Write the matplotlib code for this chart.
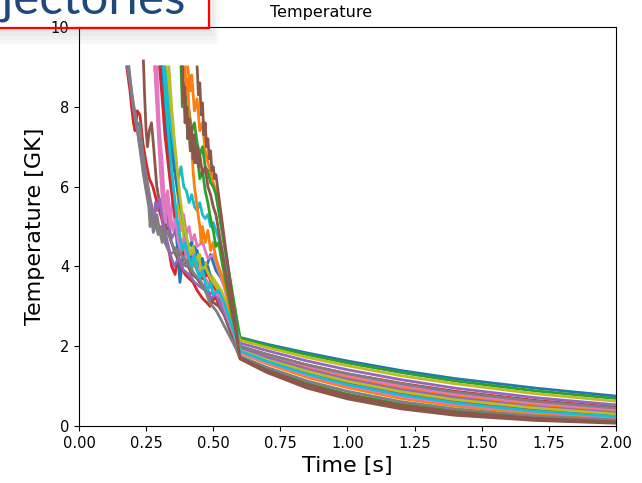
import matplotlib.pyplot as plt
from matplotlib.patches import Rectangle

# shared time grid for the smooth cooling part (after t = 0.6 s)
tail_time = [0.6, 0.7, 0.85, 1.0, 1.2, 1.4, 1.7, 2.0]

# trajectory heads (noisy part) + tail temperatures
t01 = [0.305, 0.32, 0.335, 0.35, 0.365, 0.376, 0.39, 0.41, 0.43, 0.45, 0.47, 0.49, 0.51, 0.53, 0.55]
T01 = [9.0, 7.9, 6.8, 5.7, 4.6, 3.6, 4.4, 4.1, 4.5, 4.2, 3.9, 4.3, 3.9, 3.7, 3.4] + \
      [2.22, 2.05, 1.83, 1.63, 1.39, 1.19, 0.95, 0.75]

t02 = [0.405, 0.415, 0.42, 0.43, 0.44, 0.45, 0.46, 0.47, 0.48, 0.49, 0.5, 0.51]
T02 = [9.0, 8.4, 8.8, 7.9, 8.2, 7.4, 7.6, 6.9, 6.6, 6.4, 6.1, 5.9] + \
      [1.95, 1.73, 1.45, 1.21, 0.96, 0.75, 0.53, 0.37]

t03 = [0.382, 0.39, 0.395, 0.40, 0.41, 0.42, 0.43, 0.44, 0.45, 0.46, 0.47, 0.48, 0.49, 0.50, 0.51]
T03 = [9.0, 8.2, 8.6, 7.8, 7.9, 7.4, 7.6, 7.1, 6.8, 7.0, 6.5, 6.4, 6.1, 6.0, 5.8] + \
      [2.20, 2.02, 1.79, 1.58, 1.34, 1.13, 0.88, 0.69]

t04 = [0.178, 0.19, 0.196, 0.203, 0.209, 0.217, 0.227, 0.238, 0.25, 0.262, 0.275, 0.283, 0.295, 0.308,
       0.317, 0.326, 0.335, 0.345, 0.358, 0.37, 0.38, 0.395, 0.41, 0.425, 0.44, 0.46, 0.475, 0.488, 0.506]
T04 = [9.0, 8.4, 8.0, 7.6, 7.4, 7.9, 7.8, 7.1, 6.6, 6.2, 6.0, 5.8, 5.5, 5.2,
       4.9, 4.6, 4.4, 4.0, 3.8, 4.3, 4.0, 3.8, 3.7, 3.6, 3.4, 3.2, 3.1, 3.0, 3.25] + \
      [1.98, 1.79, 1.53, 1.31, 1.07, 0.87, 0.64, 0.47]

t05 = [0.283, 0.29, 0.297, 0.303, 0.31, 0.318, 0.325, 0.335, 0.345, 0.36, 0.375, 0.39, 0.41, 0.43,
       0.45, 0.47, 0.49, 0.51, 0.52, 0.54]
T05 = [9.0, 8.3, 7.5, 6.8, 6.2, 5.6, 5.4, 5.0, 4.7, 4.9, 4.5, 4.3, 4.0, 3.8,
       3.6, 3.5, 3.3, 3.5, 3.2, 3.0] + \
      [2.08, 1.89, 1.63, 1.41, 1.16, 0.95, 0.71, 0.53]

t06 = [0.24, 0.245, 0.25, 0.255, 0.262, 0.27, 0.278, 0.285, 0.29, 0.30, 0.31, 0.325, 0.34, 0.36,
       0.38, 0.40, 0.42, 0.44, 0.46, 0.48, 0.50, 0.52, 0.54]
T06 = [9.15, 8.2, 7.4, 7.0, 7.4, 7.6, 7.0, 6.4, 6.0, 5.6, 5.3, 5.0, 4.7, 4.3,
       4.0, 4.1, 3.8, 3.7, 3.5, 3.3, 3.1, 3.0, 2.8] + \
      [1.68, 1.34, 0.95, 0.68, 0.43, 0.27, 0.14, 0.07]

t07 = [0.282, 0.29, 0.298, 0.305, 0.312, 0.32, 0.33, 0.34, 0.35, 0.36, 0.37, 0.38, 0.39, 0.40,
       0.41, 0.42, 0.43, 0.44, 0.46, 0.48, 0.50, 0.52, 0.54]
T07 = [9.0, 8.0, 7.0, 6.2, 5.5, 5.1, 5.6, 5.0, 5.8, 5.2, 5.6, 4.9, 5.3, 4.8,
       5.0, 4.6, 4.8, 4.5, 4.6, 4.2, 4.3, 3.9, 3.5] + \
      [2.0, 1.79, 1.51, 1.27, 1.01, 0.81, 0.58, 0.41]

t08 = [0.186, 0.195, 0.205, 0.215, 0.225, 0.235, 0.245, 0.255, 0.265, 0.275, 0.285, 0.295, 0.305,
       0.32, 0.34, 0.36, 0.38, 0.40, 0.42, 0.44, 0.46, 0.48, 0.50, 0.53]
T08 = [9.0, 8.4, 7.9, 7.5, 7.6, 7.0, 6.5, 6.1, 5.7, 5.4, 5.1, 4.8, 5.0,
       4.6, 4.3, 4.4, 4.1, 4.0, 4.2, 3.9, 3.7, 3.6, 3.4, 3.1] + \
      [2.0, 1.80, 1.53, 1.31, 1.06, 0.85, 0.62, 0.45]

t09 = [0.325, 0.335, 0.345, 0.355, 0.365, 0.375, 0.385, 0.395, 0.405, 0.42, 0.43, 0.44, 0.45,
       0.46, 0.47, 0.49, 0.51, 0.53]
T09 = [9.0, 8.3, 7.5, 6.8, 6.0, 5.3, 5.0, 4.5, 4.2, 3.9, 4.2, 3.9, 4.3,
       4.0, 4.1, 3.8, 3.6, 3.4] + \
      [2.15, 1.97, 1.72, 1.51, 1.26, 1.06, 0.81, 0.62]

t10 = [0.319, 0.33, 0.34, 0.35, 0.36, 0.37, 0.38, 0.39, 0.40, 0.41, 0.42, 0.43, 0.44, 0.45,
       0.46, 0.47, 0.48, 0.49, 0.50, 0.51, 0.52, 0.53, 0.55]
T10 = [9.0, 8.2, 7.5, 7.0, 6.6, 6.2, 6.5, 6.0, 5.9, 5.6, 5.8, 5.5, 5.4, 5.6,
       5.3, 5.2, 5.3, 5.0, 5.1, 4.9, 4.7, 4.5, 3.9] + \
      [1.92, 1.67, 1.36, 1.11, 0.84, 0.64, 0.42, 0.28]

t11 = [0.31, 0.32, 0.33, 0.345, 0.36, 0.375, 0.39, 0.40, 0.41, 0.42, 0.43, 0.44, 0.45, 0.46,
       0.47, 0.48, 0.49, 0.50, 0.52, 0.54]
T11 = [9.0, 8.3, 7.6, 6.9, 6.2, 5.6, 5.1, 4.7, 4.5, 4.6, 4.2, 4.4, 4.0, 4.2,
       3.8, 4.0, 3.7, 3.5, 3.3, 3.0] + \
      [1.9, 1.65, 1.33, 1.08, 0.81, 0.61, 0.40, 0.26]

t12 = [0.395, 0.40, 0.405, 0.41, 0.42, 0.425, 0.43, 0.44, 0.45, 0.455, 0.46, 0.47, 0.48, 0.49,
       0.50, 0.51, 0.52, 0.54]
T12 = [9.0, 8.3, 8.7, 7.8, 7.0, 6.4, 6.0, 5.5, 5.0, 4.6, 5.0, 4.6, 4.9, 4.4,
       4.6, 4.2, 4.0, 3.6] + \
      [1.83, 1.56, 1.22, 0.96, 0.69, 0.50, 0.31, 0.19]

t13 = [0.38, 0.385, 0.39, 0.395, 0.40, 0.405, 0.41, 0.415, 0.42, 0.43, 0.44, 0.45, 0.46, 0.47,
       0.48, 0.49, 0.50, 0.51, 0.52, 0.53, 0.55]
T13 = [9.0, 8.0, 8.4, 7.6, 7.9, 7.2, 7.5, 6.9, 7.2, 6.6, 6.8, 6.2, 6.4, 5.9,
       5.6, 5.2, 4.9, 4.5, 4.6, 4.2, 3.5] + \
      [1.72, 1.42, 1.07, 0.80, 0.55, 0.38, 0.21, 0.12]

t14 = [0.30, 0.31, 0.32, 0.33, 0.34, 0.35, 0.36, 0.37, 0.38, 0.39, 0.40, 0.41, 0.42, 0.43,
       0.44, 0.46, 0.48, 0.50, 0.52, 0.54]
T14 = [9.0, 8.2, 7.3, 6.7, 6.1, 5.6, 5.2, 4.8, 4.6, 4.3, 4.5, 4.1, 4.0, 4.3,
       3.9, 3.7, 3.8, 3.5, 3.3, 3.1] + \
      [1.88, 1.65, 1.35, 1.11, 0.85, 0.65, 0.44, 0.30]

t15 = [0.18, 0.19, 0.20, 0.21, 0.22, 0.23, 0.24, 0.25, 0.26, 0.27, 0.277, 0.285, 0.29, 0.30,
       0.31, 0.32, 0.33, 0.34, 0.355, 0.37, 0.39, 0.41, 0.43, 0.45, 0.47, 0.49, 0.51, 0.53]
T15 = [9.0, 8.6, 8.1, 7.7, 7.3, 6.9, 6.4, 6.0, 5.6, 5.2, 4.85, 5.6, 5.4, 5.7,
       5.2, 4.9, 4.6, 4.3, 4.0, 4.2, 3.9, 3.8, 3.6, 3.5, 3.4, 3.2, 3.3, 3.0] + \
      [1.95, 1.72, 1.42, 1.17, 0.91, 0.71, 0.48, 0.33]

t16 = [0.44, 0.445, 0.45, 0.455, 0.46, 0.465, 0.47, 0.475, 0.48, 0.485, 0.49, 0.495, 0.50, 0.505, 0.51]
T16 = [9.0, 8.3, 8.6, 7.8, 8.1, 7.3, 7.6, 7.0, 7.2, 6.7, 6.9, 6.4, 6.5, 6.2, 6.3] + \
      [1.70, 1.38, 1.01, 0.73, 0.48, 0.32, 0.17, 0.09]

t17 = [0.29, 0.295, 0.30, 0.31, 0.315, 0.32, 0.33, 0.34, 0.35, 0.36, 0.37, 0.38, 0.39, 0.40,
       0.42, 0.44, 0.46, 0.48, 0.50, 0.53]
T17 = [9.0, 8.2, 7.4, 6.6, 6.0, 5.5, 5.9, 5.3, 4.9, 5.2, 4.6, 4.4, 4.7, 4.2,
       4.4, 4.0, 3.8, 3.6, 3.4, 3.2] + \
      [1.85, 1.59, 1.27, 1.01, 0.74, 0.55, 0.35, 0.22]

t18 = [0.184, 0.19, 0.2, 0.21, 0.22, 0.23, 0.24, 0.25, 0.26, 0.265, 0.27, 0.28, 0.29, 0.30,
       0.31, 0.33, 0.35, 0.37, 0.39, 0.413, 0.43, 0.451, 0.47, 0.488, 0.513]
T18 = [9.0, 8.7, 8.2, 7.8, 7.3, 6.8, 6.3, 5.9, 5.5, 5.0, 5.4, 4.9, 5.3, 4.9,
       4.6, 4.9, 4.5, 4.4, 4.2, 4.0, 3.8, 3.66, 3.4, 3.08, 2.87] + \
      [1.75, 1.47, 1.13, 0.87, 0.61, 0.43, 0.25, 0.15]

t19 = [0.335, 0.345, 0.355, 0.365, 0.375, 0.385, 0.395, 0.405, 0.415, 0.425, 0.435, 0.445, 0.455,
       0.47, 0.49, 0.51, 0.53]
T19 = [9.0, 8.0, 7.2, 6.5, 5.8, 5.3, 4.9, 4.6, 4.3, 4.5, 4.1, 4.3, 3.9,
       4.0, 3.7, 3.5, 3.3] + \
      [1.9, 1.66, 1.37, 1.12, 0.86, 0.66, 0.45, 0.30]

t20 = [0.315, 0.325, 0.335, 0.345, 0.355, 0.365, 0.375, 0.385, 0.395, 0.41, 0.42, 0.43, 0.44, 0.45,
       0.46, 0.47, 0.48, 0.49, 0.50, 0.52, 0.54]
T20 = [9.0, 8.0, 7.2, 6.4, 5.8, 5.2, 4.8, 4.4, 4.6, 4.2, 4.0, 4.3, 3.9, 3.7,
       3.9, 3.6, 3.4, 3.6, 3.3, 3.4, 3.1] + \
      [1.88, 1.62, 1.30, 1.04, 0.78, 0.58, 0.37, 0.24]

# one more brown one (zigzag in the late group)
t21 = [0.386, 0.39, 0.394, 0.398, 0.402, 0.406, 0.41, 0.415, 0.42, 0.425, 0.43, 0.435, 0.44, 0.445,
       0.45, 0.46, 0.47, 0.48, 0.49, 0.50, 0.51]
T21 = [9.0, 8.1, 8.5, 7.6, 8.0, 7.2, 7.7, 6.9, 7.5, 6.7, 7.3, 6.6, 7.0, 6.5,
       6.8, 6.3, 6.5, 6.0, 5.8, 5.5, 5.3] + \
      [1.71, 1.40, 1.04, 0.77, 0.52, 0.35, 0.19, 0.10]

trajectories = [(t01, T01), (t02, T02), (t03, T03), (t04, T04), (t05, T05),
                (t06, T06), (t07, T07), (t08, T08), (t09, T09), (t10, T10),
                (t11, T11), (t12, T12), (t13, T13), (t14, T14), (t15, T15),
                (t16, T16), (t17, T17), (t18, T18), (t19, T19), (t20, T20)]

fig = plt.figure(figsize=(6.42, 4.83), dpi=100)
ax = fig.add_axes([0.123, 0.118, 0.8365, 0.826])

for t, T in trajectories:
    ax.plot(t + tail_time, T, lw=2)
ax.plot(t21 + tail_time, T21, lw=2, color='C5')

ax.set_xlim(0, 2)
ax.set_ylim(0, 10)
ax.tick_params(labelsize=10.5)
ax.set_xlabel("Time [s]", fontsize=16)
ax.set_ylabel("Temperature [GK]", fontsize=16)
fig.text(0.5, 1 - 12 / 483, "Temperature", ha='center', va='center', fontsize=11.5)

# slide title overlay (cut off at the top left): soft shadow under and right of the box
box_right = 209 / 642
box_bottom = 1 - 28 / 483
for h in [4, 8, 12, 16]:
    fig.patches.append(Rectangle((-0.02, box_bottom - h / 483), box_right + 0.02 + h / 1.6 / 642, h / 483,
                                 transform=fig.transFigure, facecolor='#808080', alpha=0.05,
                                 edgecolor='none', zorder=4))
    fig.patches.append(Rectangle((box_right, box_bottom), h / 1.6 / 642, 1 - box_bottom,
                                 transform=fig.transFigure, facecolor='#808080', alpha=0.05,
                                 edgecolor='none', zorder=4))
fig.patches.append(Rectangle((-0.02, box_bottom), box_right + 0.02, 0.2,
                             transform=fig.transFigure, fill=False, edgecolor='red',
                             lw=1.6, zorder=5))
fig.text(186 / 642, 1 - 13 / 483, "Trajectories", ha='right', va='baseline',
         fontsize=35.5, color='#1f497d', family='Lato', zorder=6)

plt.savefig("out.png", dpi=100)
plt.close()
